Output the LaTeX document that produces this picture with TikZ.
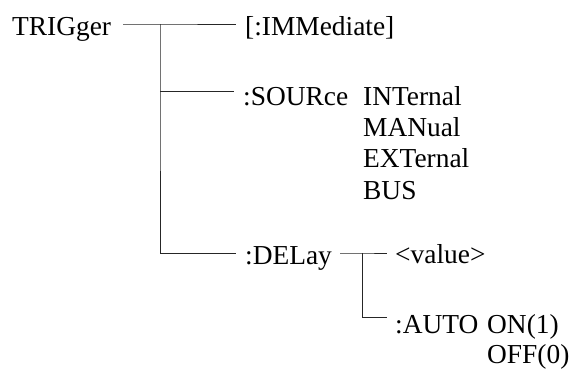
\documentclass[tikz,border=0pt]{standalone}
\usepackage{fontspec}
\setmainfont{Liberation Serif}
\begin{document}
\begin{tikzpicture}[x=1bp,y=-1bp,
  txt/.style={anchor=base west,inner sep=0pt,font=\fontsize{27.5}{32}\selectfont},
  conn/.style={draw=black!85,line width=0.9bp}]
\useasboundingbox (0,0) rectangle (573,373);
% texts
\node[txt] (trig) at (12,35) {TRIGger};
\node[txt] (imm) at (245,35) {[:IMMediate]};
\node[txt] (sour) at (243,105) {:SOURce};
\node[txt] (int) at (363,105) {INTernal};
\node[txt] (man) at (363,136) {MANual};
\node[txt] (ext) at (363,167) {EXTernal};
\node[txt] (bus) at (363,199) {BUS};
\node[txt] (del) at (245,264) {:DELay};
\node[txt] (val) at (395,263) {<value>};
\node[txt] (auto) at (395,333) {:AUTO};
\node[txt] (on) at (487,333) {ON(1)};
\node[txt] (off) at (487,363) {OFF(0)};
% junctions
\coordinate (t0) at (123,24);
\coordinate (ja) at (160,24);
\coordinate (ia) at (236,24);
\coordinate (jb) at (160,91);
\coordinate (sb) at (234,91);
\coordinate (jc) at (160,253);
\coordinate (dc) at (236,253);
\coordinate (d0) at (340,253);
\coordinate (jd) at (362,253);
\coordinate (vd) at (387,253);
\coordinate (je) at (362,317);
\coordinate (ae) at (387,317);
% connectors
\draw[conn] (t0) -- (ja) -- (ia);
\draw[conn] (ja) -- (jb) -- (jc);
\draw[conn] (jb) -- (sb);
\draw[conn] (jc) -- (dc);
\draw[conn] (d0) -- (jd) -- (vd);
\draw[conn] (jd) -- (je) -- (ae);
\end{tikzpicture}
\end{document}
